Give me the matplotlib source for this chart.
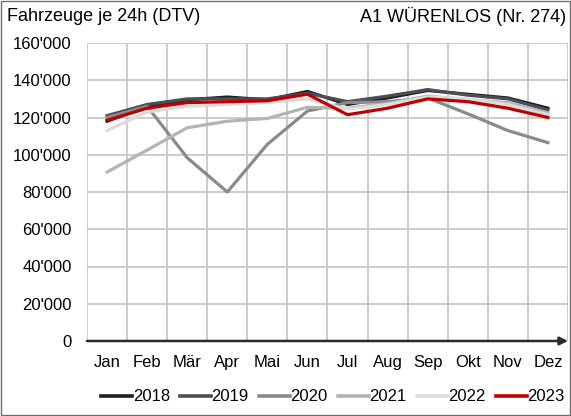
import numpy as np
import matplotlib
matplotlib.use("Agg")
import matplotlib.pyplot as plt
from matplotlib.ticker import FuncFormatter, MultipleLocator
from matplotlib.patches import Rectangle

plt.rcParams['font.family'] = ['Liberation Sans', 'DejaVu Sans']

# --- DATEN ---
monate = ["Jan", "Feb", "Mär", "Apr", "Mai", "Jun", "Jul", "Aug", "Sep", "Okt", "Nov", "Dez"]
jahre = ["2018", "2019", "2020", "2021", "2022", "2023"]

dtv_2018 = [118000, 126000, 129500, 131000, 129500, 134000, 127000, 130500, 134500, 132500, 130500, 125000]
dtv_2019 = [121000, 127000, 130000, 130000, 130000, 133000, 128500, 131500, 135000, 132000, 130000, 124000]
dtv_2020 = [120000, 126000, 98400, 80000, 105600, 123500, 128000, 128500, 130500, 122000, 113000, 106500]
dtv_2021 = [90700, 102500, 114500, 118000, 119500, 125500, 125000, 127500, 131500, 129500, 128000, 122500]
dtv_2022 = [113000, 123000, 126000, 127000, 128000, 130000, 124500, 127000, 131000, 130000, 127000, 121500]
dtv_2023 = [118500, 125000, 128000, 128500, 129000, 132500, 121500, 125000, 130000, 128500, 125000, 120000]

serien = [dtv_2018, dtv_2019, dtv_2020, dtv_2021, dtv_2022, dtv_2023]
farben = ["#1c1f24", "#4a4f57", "#8a8a8a", "#b4b4b4", "#dcdcdc", "#c00000"]

# --- GRAFIK ---
fig = plt.figure(figsize=(5.71, 4.16), dpi=100)
ax = fig.add_axes([0.1524, 0.1803, 0.8423, 0.7163])

x = np.arange(len(monate))
for jahr, werte, farbe in zip(jahre, serien, farben):
    ax.plot(x, werte, color=farbe, lw=2.3, label=jahr, solid_joinstyle='round')

ax.set_xlim(-0.5, 11.5)
ax.set_ylim(0, 160000)
ax.yaxis.set_major_locator(MultipleLocator(20000))
ax.yaxis.set_major_formatter(FuncFormatter(lambda v, p: f"{int(v):,}".replace(",", "'")))
ax.set_xticks(x)
ax.set_xticklabels(monate, fontsize=12)
ax.set_xticks(np.arange(-0.5, 12, 1), minor=True)
ax.tick_params(axis='x', which='both', length=0, pad=10)
ax.tick_params(axis='y', length=0, labelsize=12, pad=11)

ax.grid(True, axis='y', color='#c4c4c4', lw=1.2)
ax.grid(True, axis='x', which='minor', color='#c4c4c4', lw=1.2)
ax.grid(False, axis='x', which='major')
ax.set_axisbelow(True)
for s in ax.spines.values():
    s.set_visible(False)

# x-Achse mit Pfeil
ax.annotate('', xy=(1.0, 0), xytext=(0, 0), xycoords='axes fraction',
            arrowprops=dict(arrowstyle='-|>', color='#2a2a2a', lw=1.8,
                            mutation_scale=12, shrinkA=0, shrinkB=0))

fig.text(0.013, 0.96, "Fahrzeuge je 24h (DTV)", fontsize=13, va='center', ha='left')
fig.text(0.992, 0.96, "A1 WÜRENLOS (Nr. 274)", fontsize=13, va='center', ha='right')

leg = fig.legend(loc='center', bbox_to_anchor=(0.583, 0.046), ncol=6, frameon=False,
                 fontsize=12, handlelength=1.85, handletextpad=0.05, columnspacing=0.6)
for h in leg.get_lines():
    h.set_linewidth(2.6)

fig.add_artist(Rectangle((0.002, 0.002), 0.996, 0.996, transform=fig.transFigure,
                         fill=False, edgecolor='#707070', lw=1))

plt.savefig("out.png", dpi=100)
plt.close()
